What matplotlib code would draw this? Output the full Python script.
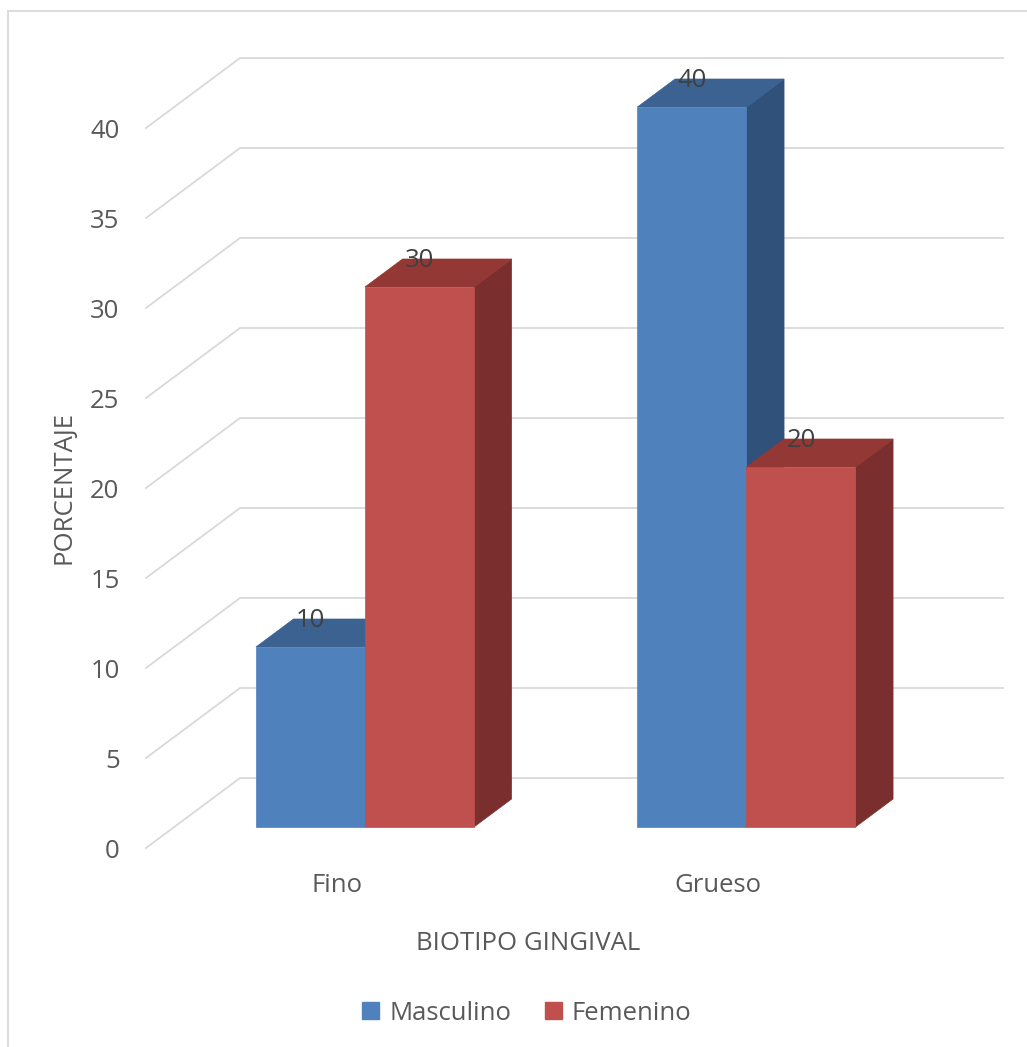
import matplotlib
matplotlib.use("Agg")
import matplotlib.pyplot as plt
from matplotlib.patches import Polygon, Rectangle, Patch
from matplotlib.lines import Line2D

# data
categories = ["Fino", "Grueso"]
series_names = ["Masculino", "Femenino"]
masculino = [10, 40]
femenino = [30, 20]
y_ticks = [0, 5, 10, 15, 20, 25, 30, 35, 40]

# colours (front, top, side)
blue = ("#4F81BD", "#3B6290", "#30517A")
red = ("#C0504D", "#943835", "#7A2F2E")
grid_col = "#D9D9D9"
text_col = "#595959"

plt.rcParams["font.family"] = ["Open Sans", "DejaVu Sans"]
FS = 18.5

W, H = 1027, 1047
fig = plt.figure(figsize=(W / 100, H / 100), dpi=100)

# plot area in pixels: floor front-left (146, 848), back wall right end 1003, top 58
left_px, right_px, bottom_px, top_px = 146, 1003, 848, 58
ax = fig.add_axes([left_px / W, 1 - bottom_px / H,
                   (right_px - left_px) / W, (bottom_px - top_px) / H])

n_cat = len(categories)
px_per_cat = 381.5
px_per_unit = 18.0
DX = 94 / px_per_cat      # depth offset in category units
DY = 70 / px_per_unit     # depth offset in value units
ymax = max(y_ticks)

ax.set_xlim(0, n_cat + DX)
ax.set_ylim(0, ymax + DY)
for s in ax.spines.values():
    s.set_visible(False)

# gridlines: side wall diagonal + back wall horizontal
for v in y_ticks:
    ax.add_line(Line2D([0, DX, n_cat + DX], [v, v + DY, v + DY],
                       color=grid_col, lw=1.3, zorder=1, clip_on=False))

# 3D bars
gap = 1.5
w = 1 / (len(series_names) + gap)
d0, d1 = 0.3, 0.7
bdx, bdy = (d1 - d0) * DX, (d1 - d0) * DY
all_vals = [masculino, femenino]
cols = [blue, red]
for i in range(n_cat):
    for j in range(len(series_names)):
        val = all_vals[j][i]
        front, top, side = cols[j]
        x0 = i + 0.5 + (j - len(series_names) / 2) * w + d0 * DX
        y0 = d0 * DY
        z = 2 + i * 3 + j
        ax.add_patch(Polygon([(x0 + w, y0), (x0 + w + bdx, y0 + bdy),
                              (x0 + w + bdx, y0 + val + bdy), (x0 + w, y0 + val)],
                             closed=True, fc=side, ec=side, lw=0.5, zorder=z, clip_on=False))
        ax.add_patch(Polygon([(x0, y0 + val), (x0 + w, y0 + val),
                              (x0 + w + bdx, y0 + val + bdy), (x0 + bdx, y0 + val + bdy)],
                             closed=True, fc=top, ec=top, lw=0.5, zorder=z, clip_on=False))
        ax.add_patch(Rectangle((x0, y0), w, val, fc=front, ec=front, lw=0.5,
                               zorder=z, clip_on=False))
        ax.text(x0 + w / 2, y0 + val + bdy - 0.1, str(val), ha="center", va="center",
                fontsize=FS, color="#404040", zorder=20)

# axes ticks
ax.set_yticks(y_ticks)
ax.set_yticklabels([str(v) for v in y_ticks])
ax.set_xticks([i + 0.5 for i in range(n_cat)])
ax.set_xticklabels(categories)
ax.tick_params(axis="y", length=0, pad=19, labelsize=FS, labelcolor=text_col)
ax.tick_params(axis="x", length=0, pad=18, labelsize=FS, labelcolor=text_col)

fig.text(64 / W, 1 - 488 / H, "PORCENTAJE", rotation=90, ha="center", va="center",
         fontsize=FS, color=text_col)
fig.text(528 / W, 1 - 943 / H, "BIOTIPO GINGIVAL", ha="center", va="center",
         fontsize=FS, color=text_col)

handles = [Patch(fc=blue[0], ec=blue[0]), Patch(fc=red[0], ec=red[0])]
fig.legend(handles, series_names, loc="center", bbox_to_anchor=(527 / W, 1 - 1013 / H),
           ncol=2, frameon=False, fontsize=FS, labelcolor=text_col,
           handlelength=0.65, handleheight=0.65, handletextpad=0.4, columnspacing=1.3)

# chart border (left and top visible in the crop)
fig.add_artist(Line2D([8 / W, 8 / W], [0, 1 - 11 / H], transform=fig.transFigure,
                      color=grid_col, lw=1.3))
fig.add_artist(Line2D([8 / W, 1], [1 - 11 / H, 1 - 11 / H], transform=fig.transFigure,
                      color=grid_col, lw=1.3))

fig.savefig("out.png", dpi=100)
